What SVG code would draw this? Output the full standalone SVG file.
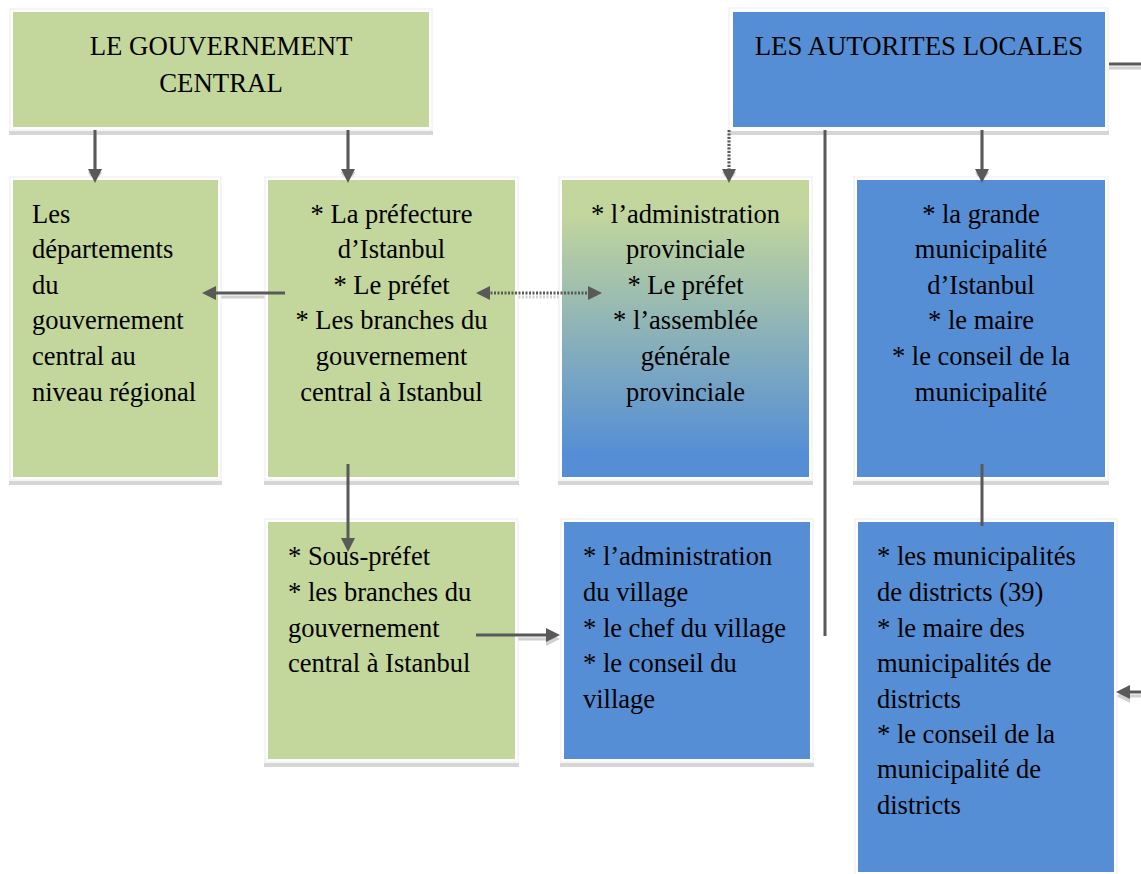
<svg xmlns="http://www.w3.org/2000/svg" width="1141" height="874" viewBox="0 0 1141 874">
<style>
.frame{fill:#ffffff;stroke:#ececec;stroke-width:1}
.shadow{fill:#d6d6d6}
.green{fill:#C3D69B}
.blue{fill:#558ED5}
.t{font-family:"Liberation Serif","Times New Roman",serif;font-size:26.5px;fill:#000}
.title{font-family:"Liberation Serif","Times New Roman",serif;font-size:26.8px;fill:#000}
.c{text-anchor:middle}
.ln{stroke:#595959;stroke-width:3;fill:none}
.dot{stroke:#595959;stroke-width:3;fill:none;stroke-dasharray:2 1.5}
.sh{stroke:#d0d0d0;stroke-width:3;fill:none}
</style>
<defs>
<linearGradient id="gb" x1="0" y1="0" x2="0" y2="1">
<stop offset="0" stop-color="#C3D69B"/>
<stop offset="0.12" stop-color="#C1D59D"/>
<stop offset="0.92" stop-color="#558ED5"/>
<stop offset="1" stop-color="#558ED5"/>
</linearGradient>
<marker id="ah" viewBox="0 0 14 14" markerWidth="14" markerHeight="14" markerUnits="userSpaceOnUse" refX="3" refY="7" orient="auto-start-reverse">
<path d="M0,0 L14,7 L0,14 z" fill="#595959"/>
</marker>
<marker id="ahs" viewBox="0 0 14 14" markerWidth="14" markerHeight="14" markerUnits="userSpaceOnUse" refX="3" refY="7" orient="auto-start-reverse">
<path d="M0,0 L14,7 L0,14 z" fill="#d0d0d0"/>
</marker>
</defs>
<rect width="1141" height="874" fill="#ffffff"/>

<g id="connector-shadows">
<line class="sh" x1="95" y1="133" x2="95" y2="175" marker-end="url(#ahs)"/>
<line class="sh" x1="348" y1="133" x2="348" y2="175" marker-end="url(#ahs)"/>
<line class="sh" x1="982" y1="133" x2="982" y2="175" marker-end="url(#ahs)"/>
<line class="sh" x1="729" y1="133" x2="729" y2="175" marker-end="url(#ahs)" stroke-dasharray="2 1.5"/>
<line class="sh" x1="285" y1="297" x2="213" y2="297" marker-end="url(#ahs)"/>
<line class="sh" x1="487" y1="297" x2="591" y2="297" marker-start="url(#ahs)" marker-end="url(#ahs)" stroke-dasharray="2 1.5"/>
<line class="sh" x1="476" y1="639" x2="549" y2="639" marker-end="url(#ahs)"/>
<line class="sh" x1="1141" y1="696" x2="1127" y2="696" marker-end="url(#ahs)"/>
<line class="sh" x1="1109" y1="68" x2="1141" y2="68"/>
</g>

<g id="n1">
<rect class="frame" x="10" y="9" width="422" height="121"/>
<rect class="shadow" x="9" y="131" width="424" height="4"/>
<rect class="green" x="13" y="12" width="416" height="115"/>
<text class="title c" x="221" y="55">LE GOUVERNEMENT</text>
<text class="title c" x="221" y="92">CENTRAL</text>
</g>

<g id="n2">
<rect class="frame" x="729" y="8" width="379" height="124"/>
<rect class="shadow" x="728" y="131" width="381" height="4"/>
<rect class="blue" x="733" y="12" width="372" height="115"/>
<text class="title c" x="919" y="55">LES AUTORITES LOCALES</text>
</g>

<g id="n3">
<rect class="frame" x="10" y="177" width="211" height="303"/>
<rect class="shadow" x="9" y="481" width="213" height="4"/>
<rect class="green" x="13" y="180" width="205" height="297"/>
<text class="t" x="32" y="223">Les</text>
<text class="t" x="32" y="258">départements</text>
<text class="t" x="32" y="294">du</text>
<text class="t" x="32" y="329">gouvernement</text>
<text class="t" x="32" y="365">central au</text>
<text class="t" x="32" y="401">niveau régional</text>
</g>

<g id="n4">
<rect class="frame" x="265" y="177" width="253" height="303"/>
<rect class="shadow" x="264" y="481" width="255" height="4"/>
<rect class="green" x="268" y="180" width="247" height="297"/>
<text class="t c" x="391.5" y="223">* La préfecture</text>
<text class="t c" x="391.5" y="258">d’Istanbul</text>
<text class="t c" x="391.5" y="294">* Le préfet</text>
<text class="t c" x="391.5" y="329">* Les branches du</text>
<text class="t c" x="391.5" y="365">gouvernement</text>
<text class="t c" x="391.5" y="401">central à Istanbul</text>
</g>

<g id="n5">
<rect class="frame" x="559" y="177" width="253" height="303"/>
<rect class="shadow" x="558" y="481" width="255" height="4"/>
<rect fill="url(#gb)" x="562" y="180" width="247" height="297"/>
<text class="t c" x="685.5" y="223">* l’administration</text>
<text class="t c" x="685.5" y="258">provinciale</text>
<text class="t c" x="685.5" y="294">* Le préfet</text>
<text class="t c" x="685.5" y="329">* l’assemblée</text>
<text class="t c" x="685.5" y="365">générale</text>
<text class="t c" x="685.5" y="401">provinciale</text>
</g>

<g id="n6">
<rect class="frame" x="854" y="177" width="254" height="303"/>
<rect class="shadow" x="853" y="481" width="256" height="4"/>
<rect class="blue" x="857" y="180" width="248" height="297"/>
<text class="t c" x="981" y="223">* la grande</text>
<text class="t c" x="981" y="258">municipalité</text>
<text class="t c" x="981" y="294">d’Istanbul</text>
<text class="t c" x="981" y="329">* le maire</text>
<text class="t c" x="981" y="365">* le conseil de la</text>
<text class="t c" x="981" y="401">municipalité</text>
</g>

<g id="n7">
<rect class="frame" x="265" y="519" width="253" height="243"/>
<rect class="shadow" x="264" y="763" width="255" height="4"/>
<rect class="green" x="268" y="522" width="247" height="237"/>
<text class="t" x="288" y="565">* Sous-préfet</text>
<text class="t" x="288" y="601">* les branches du</text>
<text class="t" x="288" y="637">gouvernement</text>
<text class="t" x="288" y="672">central à Istanbul</text>
</g>

<g id="n8">
<rect class="frame" x="561" y="519" width="252" height="243"/>
<rect class="shadow" x="560" y="763" width="254" height="4"/>
<rect class="blue" x="564" y="522" width="246" height="237"/>
<text class="t" x="583" y="565">* l’administration</text>
<text class="t" x="583" y="601">du village</text>
<text class="t" x="583" y="637">* le chef du village</text>
<text class="t" x="583" y="672">* le conseil du</text>
<text class="t" x="583" y="708">village</text>
</g>

<g id="n9">
<rect class="frame" x="855" y="519" width="262" height="360"/>
<rect class="blue" x="858" y="522" width="256" height="350"/>
<text class="t" x="877" y="565">* les municipalités</text>
<text class="t" x="877" y="601">de districts (39)</text>
<text class="t" x="877" y="637">* le maire des</text>
<text class="t" x="877" y="672">municipalités de</text>
<text class="t" x="877" y="708">districts</text>
<text class="t" x="877" y="743">* le conseil de la</text>
<text class="t" x="877" y="778">municipalité de</text>
<text class="t" x="877" y="814">districts</text>
</g>

<g id="connectors">
<line class="ln" x1="95" y1="130" x2="95" y2="172" marker-end="url(#ah)"/>
<line class="ln" x1="348" y1="130" x2="348" y2="172" marker-end="url(#ah)"/>
<line class="dot" x1="729" y1="130" x2="729" y2="172" marker-end="url(#ah)"/>
<line class="ln" x1="982" y1="130" x2="982" y2="172" marker-end="url(#ah)"/>
<line class="ln" x1="825" y1="130" x2="825" y2="636"/>
<line class="ln" x1="1109" y1="64" x2="1141" y2="64"/>
<line class="ln" x1="285" y1="293" x2="213" y2="293" marker-end="url(#ah)"/>
<line class="dot" x1="487" y1="293" x2="591" y2="293" marker-start="url(#ah)" marker-end="url(#ah)"/>
<line class="ln" x1="348" y1="464" x2="348" y2="541" marker-end="url(#ah)"/>
<line class="ln" x1="982" y1="464" x2="982" y2="526"/>
<line class="ln" x1="476" y1="635" x2="549" y2="635" marker-end="url(#ah)"/>
<line class="ln" x1="1141" y1="692" x2="1127" y2="692" marker-end="url(#ah)"/>
</g>
</svg>
